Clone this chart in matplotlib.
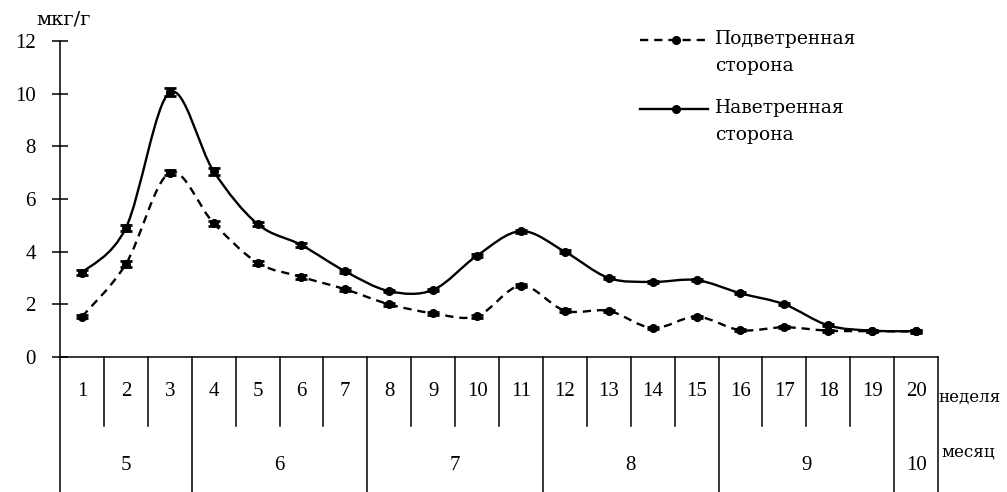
import matplotlib
matplotlib.use('Agg')
import matplotlib.pyplot as plt
import numpy as np
from matplotlib.path import Path
from matplotlib.patches import PathPatch
from matplotlib.lines import Line2D

plt.rcParams['font.family'] = ['Liberation Serif', 'DejaVu Serif']
WORD_FONT = ['DejaVu Serif']

# Weekly concentrations, мкг/г
weeks = list(range(1, 21))
leeward = [1.53, 3.53, 7.0, 5.08, 3.58, 3.04, 2.57, 2.0, 1.66, 1.55,
           2.71, 1.76, 1.75, 1.1, 1.53, 1.02, 1.13, 1.0, 0.98, 0.97]
leeward_err = [0.06, 0.1, 0.1, 0.1, 0.08, 0.06, 0.05, 0.05, 0.05, 0.05,
               0.05, 0.05, 0.05, 0.04, 0.04, 0.04, 0.04, 0.04, 0.04, 0.04]
windward = [3.2, 4.9, 10.05, 7.05, 5.05, 4.25, 3.25, 2.5, 2.55, 3.85,
            4.78, 4.0, 3.0, 2.85, 2.92, 2.42, 2.0, 1.2, 1.0, 0.98]
windward_err = [0.1, 0.12, 0.15, 0.13, 0.08, 0.08, 0.06, 0.05, 0.05, 0.06,
                0.06, 0.05, 0.05, 0.04, 0.04, 0.04, 0.04, 0.04, 0.04, 0.04]

months = ['5', '6', '7', '8', '9', '10']
weeks_per_month = [3, 4, 4, 4, 4, 1]

W, H = 1007, 492


def smooth_path(xs, ys):
    # Catmull-Rom style cubic Bezier through every point
    p = np.column_stack([xs, ys]).astype(float)
    n = len(p)
    verts = [p[0]]
    codes = [Path.MOVETO]
    for i in range(n - 1):
        pm = p[i - 1] if i > 0 else p[i]
        pp = p[i + 2] if i + 2 < n else p[i + 1]
        c1 = p[i] + (p[i + 1] - pm) / 6
        c2 = p[i + 1] - (pp - p[i]) / 6
        verts += [c1, c2, p[i + 1]]
        codes += [Path.CURVE4] * 3
    return Path(verts, codes)


fig = plt.figure(figsize=(W / 100, H / 100), dpi=100)
ax = fig.add_axes([60 / W, (H - 357) / H, 878 / W, 316 / H])
ax.set_xlim(0.5, 20.5)
ax.set_ylim(0, 12)

dash = (0, (3.5, 2.5))
ax.add_patch(PathPatch(smooth_path(weeks, leeward), fill=False, lw=1.7,
                       ls=dash, ec='black', capstyle='butt'))
ax.add_patch(PathPatch(smooth_path(weeks, windward), fill=False, lw=1.7,
                       ec='black'))
for vals, err in [(leeward, leeward_err), (windward, windward_err)]:
    ax.errorbar(weeks, vals, yerr=err, fmt='o', color='black', ms=5.5,
                capsize=4, elinewidth=1.2, capthick=2)

for s in ['top', 'right']:
    ax.spines[s].set_visible(False)
ax.spines['left'].set_linewidth(1.1)
ax.spines['bottom'].set_linewidth(1.1)
ax.set_xticks([])
ax.set_yticks(range(0, 13, 2))
ax.tick_params(axis='y', direction='inout', length=11, width=1.1, pad=12,
               labelsize=15)

# week / month table under the axis
tr = ax.get_xaxis_transform()
row1 = -(426 - 357) / 316
row_bottom = -(H - 357) / 316
edges = np.cumsum([0] + weeks_per_month) + 0.5
for w in range(1, 21):
    b = w + 0.5
    ytop = row_bottom if (b in edges or w == 20) else row1
    ax.plot([b, b], [0, ytop], transform=tr, color='black', lw=1.1,
            clip_on=False)
ax.plot([0.5, 0.5], [0, row_bottom], transform=tr, color='black', lw=1.1,
        clip_on=False)
for w in weeks:
    ax.text(w, -(392 - 357) / 316, str(w), transform=tr, ha='center',
            va='center', fontsize=15)
for m, lo, hi in zip(months, edges[:-1], edges[1:]):
    ax.text((lo + hi) / 2, -(465 - 357) / 316, m, transform=tr,
            ha='center', va='center', fontsize=15)

fig.text(938 / W, 1 - 397 / H, 'неделя', ha='left', va='center',
         fontsize=12, family=WORD_FONT)
fig.text(941 / W, 1 - 452 / H, 'месяц', ha='left', va='center',
         fontsize=12, family=WORD_FONT)
fig.text(64 / W, 1 - 19 / H, 'мкг/г', ha='center', va='center',
         fontsize=14, family=WORD_FONT)

# legend
legend_items = [(40, dash, 'Подветренная'), (109, '-', 'Наветренная')]
for py, ls, label in legend_items:
    fy = 1 - py / H
    fig.add_artist(Line2D([640 / W, 708 / W], [fy, fy], color='black',
                          lw=1.7, ls=ls, transform=fig.transFigure))
    fig.add_artist(Line2D([676 / W], [fy], color='black', marker='o',
                          ms=5.5, transform=fig.transFigure))
    fig.text(715 / W, 1 - (py - 1) / H, label, ha='left', va='center',
             fontsize=13.5, family=WORD_FONT)
    fig.text(715 / W, 1 - (py + 26) / H, 'сторона', ha='left',
             va='center', fontsize=13.5, family=WORD_FONT)

fig.savefig('out.png', dpi=100)
